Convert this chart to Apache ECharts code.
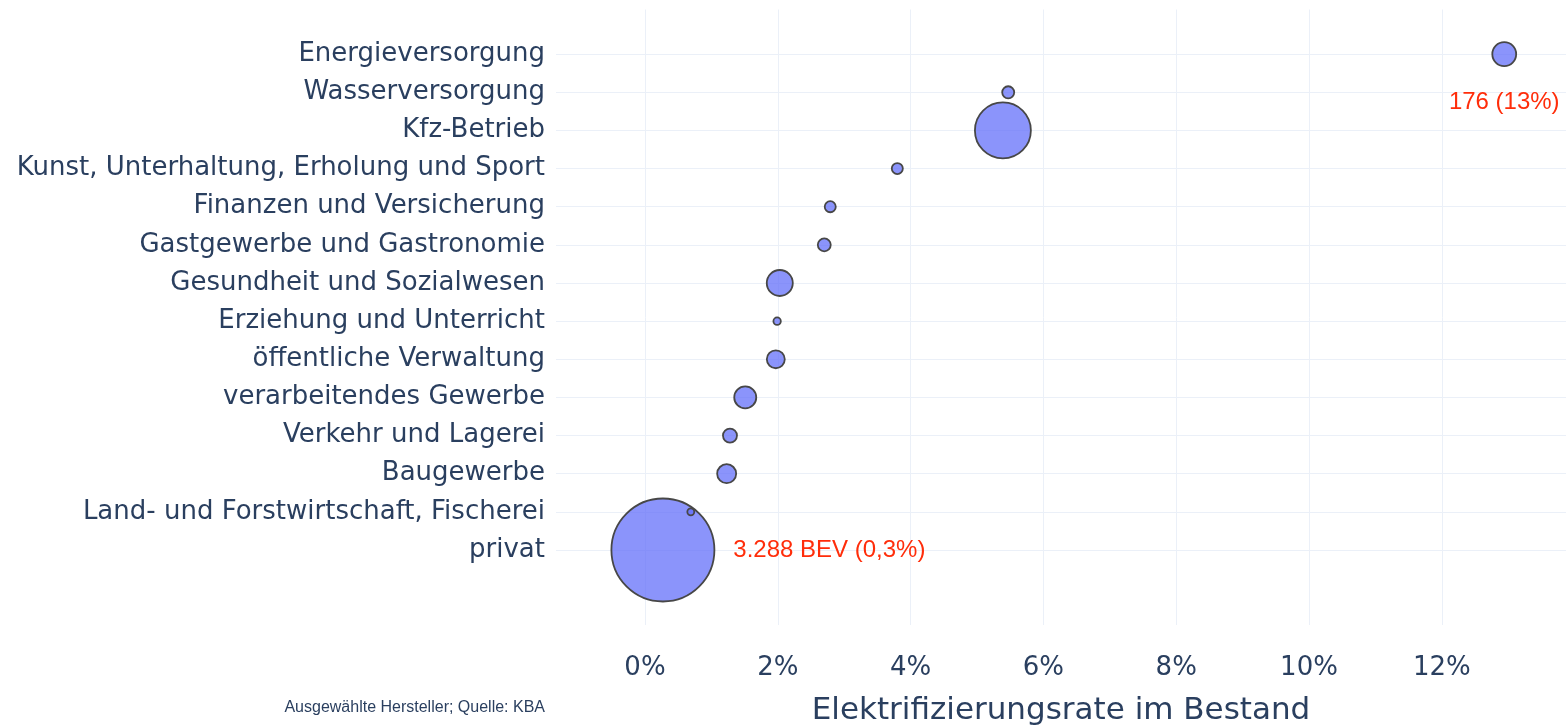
<!DOCTYPE html>
<html>
<head>
<meta charset="utf-8">
<script src="https://cdn.jsdelivr.net/npm/echarts@6/dist/echarts.min.js"></script>
<style>
  html, body { margin: 0; padding: 0; background: #fff; }
  #chart { width: 1566px; height: 725px; }
</style>
</head>
<body>
<div id="chart"></div>
<script>
// bottom to top
const categories = [
    'privat',
    'Land- und Forstwirtschaft, Fischerei',
    'Baugewerbe',
    'Verkehr und Lagerei',
    'verarbeitendes Gewerbe',
    'öffentliche Verwaltung',
    'Erziehung und Unterricht',
    'Gesundheit und Sozialwesen',
    'Gastgewerbe und Gastronomie',
    'Finanzen und Versicherung',
    'Kunst, Unterhaltung, Erholung und Sport',
    'Kfz-Betrieb',
    'Wasserversorgung',
    'Energieversorgung'
];
// Elektrifizierungsrate in %
const rates = [0.27, 0.69, 1.23, 1.28, 1.51, 1.97, 1.99, 2.03, 2.70, 2.79, 3.80, 5.39, 5.47, 12.94];
// Anzahl BEV
const counts = [3288, 15, 112, 61, 150, 100, 17, 210, 52, 38, 38, 970, 45, 176];
const notes = {
    'privat': '3.288 BEV (0,3%)',
    'Energieversorgung': '176 (13%)'
};
const xTicks = [0, 2, 4, 6, 8, 10, 12];

const textColor = '#2a3f5f';
const gridColor = '#ebf0f8';

const chart = echarts.init(document.getElementById('chart'));

const data = categories.map(function (c, i) {
    const item = { value: [rates[i], i, counts[i]] };
    if (notes[c]) {
        item.label = {
            show: true,
            formatter: notes[c],
            position: c === 'privat' ? 'right' : 'bottom',
            distance: c === 'privat' ? 18 : 23,
            color: '#ff2d0a',
            fontFamily: 'Liberation Sans',
            fontSize: 24
        };
    }
    return item;
});

const option = {
    animation: false,
    grid: { left: 556, right: 0, top: 9.5, bottom: 100, outerBoundsMode: 'none' },
    xAxis: {
        type: 'value',
        min: -1.34,
        max: 13.87,
        axisLine: { show: false },
        axisTick: { show: false, customValues: xTicks },
        axisLabel: {
            customValues: xTicks,
            formatter: '{value}%',
            color: textColor,
            fontFamily: 'DejaVu Sans',
            fontSize: 26,
            margin: 30
        },
        splitLine: { lineStyle: { color: gridColor, width: 1 } },
        name: 'Elektrifizierungsrate im Bestand',
        nameLocation: 'middle',
        nameGap: 70,
        nameTextStyle: { color: textColor, fontFamily: 'DejaVu Sans', fontSize: 31 }
    },
    yAxis: {
        type: 'value',
        min: -1.966,
        max: 14.17,
        axisLine: { show: false },
        axisTick: { show: false, customValues: categories.map((c, i) => i) },
        axisLabel: {
            customValues: categories.map((c, i) => i),
            formatter: v => categories[v],
            color: textColor,
            fontFamily: 'DejaVu Sans',
            fontSize: 26,
            margin: 11
        },
        splitLine: { lineStyle: { color: gridColor, width: 1 } }
    },
    graphic: [{
        type: 'text',
        right: 1021,
        top: 700,
        style: {
            text: 'Ausgewählte Hersteller; Quelle: KBA',
            font: '16px "Liberation Sans"',
            fill: textColor
        }
    }],
    series: [{
        type: 'scatter',
        data: data,
        symbolSize: v => 103 * Math.sqrt(v[2] / 3288),
        clip: false,
        itemStyle: {
            opacity: 1,
            color: 'rgba(99,110,250,0.74)',
            borderColor: '#474747',
            borderWidth: 1.8
        }
    }]
};
chart.setOption(option);
</script>
</body>
</html>
